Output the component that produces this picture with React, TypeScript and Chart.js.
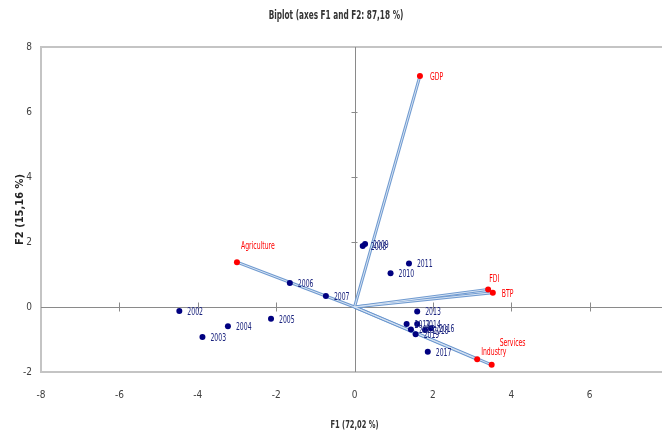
import React, { useEffect, useRef } from 'react';
import { Chart, registerables } from 'chart.js';

Chart.register(...registerables);

// ---- data ----
const years = ['2002', '2003', '2004', '2005', '2006', '2007', '2008', '2009', '2010', '2011', '2012', '2013', '2014', '2015', '2016', '2017', '2018', '2019'];
const obsF1 = [-4.47, -3.88, -3.23, -2.13, -1.65, -0.73, 0.21, 0.27, 0.92, 1.39, 1.33, 1.6, 1.6, 1.44, 1.95, 1.87, 1.8, 1.56];
const obsF2 = [-0.12, -0.92, -0.59, -0.36, 0.74, 0.34, 1.88, 1.94, 1.04, 1.34, -0.52, -0.14, -0.52, -0.69, -0.65, -1.38, -0.71, -0.84];

const variables = ['Agriculture', 'GDP', 'FDI', 'BTP', 'Industry', 'Services'];
const varF1 = [-3.0, 1.67, 3.41, 3.53, 3.13, 3.5];
const varF2 = [1.38, 7.11, 0.54, 0.44, -1.61, -1.78];

const xRange = [-8, 8];
const yRange = [-2, 8];
const tickStep = 2;

const titleText = 'Biplot (axes F1 and F2: 87,18 %)';
const xTitle = 'F1 (72,02 %)';
const yTitle = 'F2 (15,16 %)';

// ---- styles ----
const FONT = "'DejaVu Sans Condensed', 'Liberation Sans', sans-serif";
const obsColor = '#000080';
const varColor = '#FF0000';
const obsLabelOffset: [number, number] = [8, 1];
const varLabelOffsets: Record<string, [number, number]> = {
  Agriculture: [4, -16],
  GDP: [10, 1],
  FDI: [1, -10],
  BTP: [9, 1],
  Industry: [4, -7],
  Services: [8, -22],
};

function squishText(ctx: CanvasRenderingContext2D, text: string, x: number, y: number, sx: number, align: CanvasTextAlign) {
  ctx.save();
  ctx.translate(x, y);
  ctx.scale(sx, 1);
  ctx.textAlign = align;
  ctx.textBaseline = 'middle';
  ctx.fillText(text, 0, 0);
  ctx.restore();
}

const decorPlugin = {
  id: 'decor',
  beforeDatasetsDraw(chart: any) {
    const { ctx, chartArea: a, scales } = chart;
    const xs = scales.x;
    const ys = scales.y;
    const x0 = xs.getPixelForValue(0);
    const y0 = ys.getPixelForValue(0);
    ctx.save();
    // plot border
    ctx.strokeStyle = '#C4C4C4';
    ctx.lineWidth = 2;
    ctx.strokeRect(a.left, a.top, a.right - a.left + 10, a.bottom - a.top);
    // zero lines
    ctx.strokeStyle = '#8A8A8A';
    ctx.lineWidth = 1;
    ctx.beginPath();
    ctx.moveTo(a.left, Math.round(y0) + 0.5);
    ctx.lineTo(a.right + 10, Math.round(y0) + 0.5);
    ctx.moveTo(Math.round(x0) + 0.5, a.top);
    ctx.lineTo(Math.round(x0) + 0.5, a.bottom);
    // tick marks on zero lines
    for (let v = xRange[0] + tickStep; v < xRange[1]; v += tickStep) {
      if (v === 0) continue;
      const px = Math.round(xs.getPixelForValue(v)) + 0.5;
      ctx.moveTo(px, y0 - 4.5);
      ctx.lineTo(px, y0 + 4.5);
    }
    for (let v = yRange[0] + tickStep; v < yRange[1]; v += tickStep) {
      if (v === 0) continue;
      const py = Math.round(ys.getPixelForValue(v)) + 0.5;
      ctx.moveTo(x0 - 3, py);
      ctx.lineTo(x0 + 3, py);
    }
    ctx.stroke();
    ctx.restore();
  },
  afterDraw(chart: any) {
    const { ctx, chartArea: a } = chart;
    ctx.save();
    ctx.fillStyle = '#333333';
    ctx.font = `bold 12px ${FONT}`;
    squishText(ctx, titleText, 336, 16, 0.68, 'center');
    ctx.font = `bold 11px ${FONT}`;
    ctx.fillStyle = '#333333';
    squishText(ctx, xTitle, chart.scales.x.getPixelForValue(0), 425, 0.68, 'center');
    ctx.restore();
  },
};

const labelPlugin = {
  id: 'pointLabels',
  afterDatasetsDraw(chart: any) {
    const { ctx } = chart;
    ctx.save();
    chart.data.datasets.forEach((ds: any, di: number) => {
      if (!ds.pointNames) return;
      const meta = chart.getDatasetMeta(di);
      meta.data.forEach((el: any, i: number) => {
        const name = ds.pointNames[i];
        const off = ds.isVar ? varLabelOffsets[name] : obsLabelOffset;
        ctx.fillStyle = ds.isVar ? varColor : '#1A237E';
        ctx.font = `11px ${FONT}`;
        squishText(ctx, name, el.x + off[0], el.y + off[1], 0.62, 'left');
      });
    });
    ctx.restore();
  },
};

export default function App() {
  const ref = useRef<HTMLCanvasElement | null>(null);

  useEffect(() => {
    if (!ref.current) return;
    const lineOuter = variables.map((v, i) => ({
      type: 'line' as const,
      data: [{ x: 0, y: 0 }, { x: varF1[i], y: varF2[i] }],
      borderColor: '#6F9AD0',
      borderWidth: 3,
      pointRadius: 0,
      showLine: true,
      fill: false,
      order: 5,
    }));
    const lineInner = variables.map((v, i) => ({
      type: 'line' as const,
      data: [{ x: 0, y: 0 }, { x: varF1[i], y: varF2[i] }],
      borderColor: '#D6E3F3',
      borderWidth: 1,
      pointRadius: 0,
      showLine: true,
      fill: false,
      order: 4,
    }));
    const chart = new Chart(ref.current, {
      type: 'scatter',
      data: {
        datasets: [
          {
            data: years.map((y, i) => ({ x: obsF1[i], y: obsF2[i] })),
            pointNames: years,
            isVar: false,
            backgroundColor: obsColor,
            borderColor: obsColor,
            pointRadius: 3,
            pointBorderWidth: 0,
            order: 1,
          } as any,
          {
            data: variables.map((v, i) => ({ x: varF1[i], y: varF2[i] })),
            pointNames: variables,
            isVar: true,
            backgroundColor: varColor,
            borderColor: varColor,
            pointRadius: 3,
            pointBorderWidth: 0,
            order: 1,
          } as any,
          ...lineOuter,
          ...lineInner,
        ],
      },
      options: {
        responsive: false,
        animation: false,
        devicePixelRatio: 1,
        layout: { padding: { top: 47, left: 0, right: 4, bottom: 0 } },
        plugins: {
          legend: { display: false },
          tooltip: { enabled: false },
          title: { display: false },
        },
        scales: {
          x: {
            type: 'linear',
            min: xRange[0],
            max: xRange[1],
            grid: { display: false, drawTicks: false, tickLength: 0 },
            border: { display: false },
            ticks: {
              stepSize: tickStep,
              padding: 4,
              color: '#404040',
              font: { family: FONT, size: 10, lineHeight: '38px' },
              callback: (v: any) => (v === xRange[1] ? '' : String(v)),
            },
            title: { display: false },
            afterFit: (s: any) => {
              s.height = 59;
            },
          },
          y: {
            type: 'linear',
            min: yRange[0],
            max: yRange[1],
            grid: { display: false, drawTicks: false, tickLength: 0 },
            border: { display: false },
            ticks: {
              stepSize: tickStep,
              padding: 9,
              color: '#404040',
              font: { family: FONT, size: 10 },
            },
            title: {
              display: true,
              text: yTitle,
              color: '#222222',
              font: { family: FONT, size: 11, weight: 'bold', lineHeight: 1.2 },
              padding: { top: 14, bottom: 0 },
            },
            afterFit: (s: any) => {
              s.width = 41;
            },
          },
        },
      } as any,
      plugins: [decorPlugin, labelPlugin],
    });
    return () => chart.destroy();
  }, []);

  return (
    <div style={{ position: 'fixed', left: 0, top: 0, width: 662, height: 431, overflow: 'hidden', background: '#fff' }}>
      <canvas ref={ref} width={672} height={431} style={{ display: 'block' }} />
    </div>
  );
}
